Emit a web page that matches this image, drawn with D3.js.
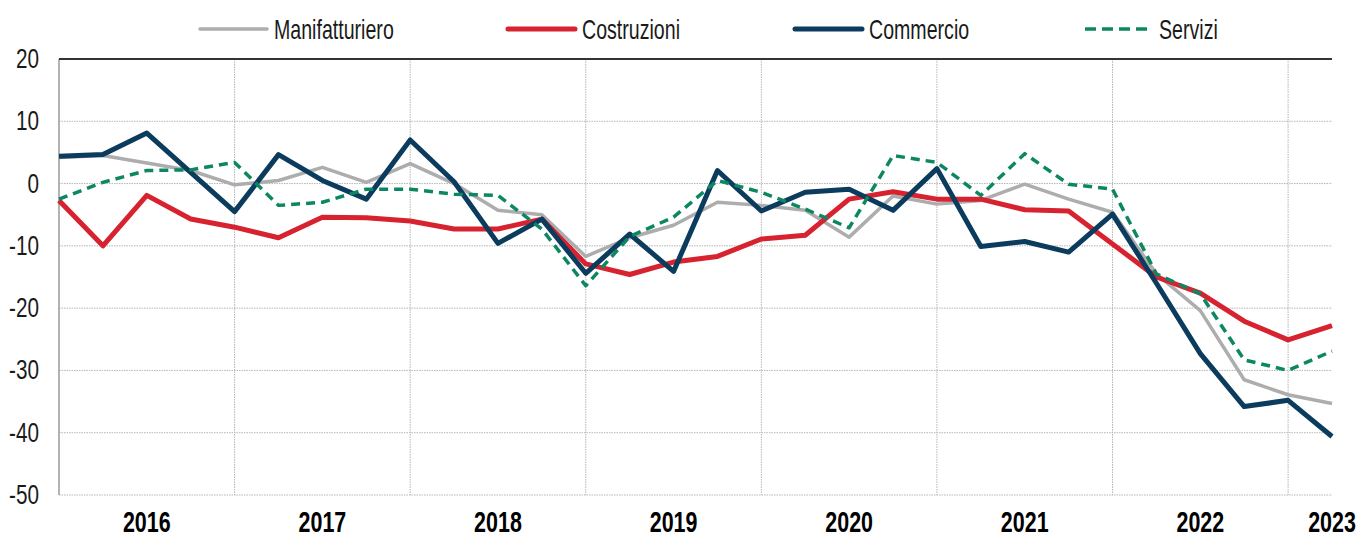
<!DOCTYPE html>
<html>
  <head>
    <meta charset="utf-8" />
    <title>Clima di fiducia per settore</title>
    <script src="https://cdn.jsdelivr.net/npm/d3@7"></script>
    <style>
      body { margin: 0; background: #fff; }
      text { font-family: "Liberation Sans Narrow", "Arial Narrow", "Liberation Sans", sans-serif; fill: #1a1a1a; }
    </style>
  </head>
  <body>
    <svg id="chart"></svg>
    <script>
      // quarterly series, 2016 Q1 - 2023 Q2
      const years = ["2016", "2017", "2018", "2019", "2020", "2021", "2022", "2023"]
      const quartersPerYear = [4, 4, 4, 4, 4, 4, 4, 2]
      const yTicks = [20, 10, 0, -10, -20, -30, -40, -50]

      const manifatturiero = [4.2, 4.5, 3.3, 2.1, -0.2, 0.5, 2.6, 0.2, 3.2, 0.0, -4.3, -5.0, -11.7, -8.7, -6.7, -3.0,
        -3.5, -4.3, -8.6, -2.0, -3.3, -2.7, -0.1, -2.5, -4.6, -14.5, -20.4, -31.5, -33.9, -35.3]
      const costruzioni = [-2.7, -10.0, -1.9, -5.7, -7.0, -8.7, -5.4, -5.5, -6.0, -7.3, -7.3, -5.7, -12.9, -14.6, -12.6, -11.7,
        -8.9, -8.3, -2.5, -1.3, -2.5, -2.5, -4.2, -4.4, -9.7, -15.0, -17.6, -22.1, -25.1, -22.8]
      const commercio = [4.4, 4.65, 8.1, 1.8, -4.5, 4.65, 0.5, -2.5, 7.0, 0.3, -9.6, -5.7, -14.4, -8.1, -14.1, 2.1,
        -4.4, -1.4, -0.9, -4.3, 2.4, -10.1, -9.3, -11.0, -4.9, -16.0, -27.3, -35.8, -34.8, -40.6]
      const servizi = [-2.5, 0.2, 2.1, 2.2, 3.4, -3.5, -3.0, -0.9, -0.9, -1.7, -1.9, -7.3, -16.4, -8.5, -5.4, 0.5,
        -1.4, -4.1, -7.1, 4.5, 3.4, -1.9, 4.8, -0.1, -0.9, -14.5, -17.7, -28.3, -30.0, -26.9]

      const seriesNames = ["Manifatturiero", "Costruzioni", "Commercio", "Servizi"]
      const seriesValues = [manifatturiero, costruzioni, commercio, servizi]

      const width = 1359
      const height = 538
      const margin = {top: 59, right: 27, bottom: 43, left: 59}

      const styles = {
        Manifatturiero: {color: "#adadad", width: 3.5, dash: null},
        Costruzioni: {color: "#d7222f", width: 5, dash: null},
        Commercio: {color: "#0b3b5d", width: 5, dash: null},
        Servizi: {color: "#0d8762", width: 3.5, dash: "9,6"},
      }
      const legendX = [200, 508, 795, 1085]

      const nPoints = manifatturiero.length

      const x = d3.scaleLinear()
        .domain([0, nPoints - 1])
        .range([margin.left, width - margin.right])

      const y = d3.scaleLinear()
        .domain([-50, 20])
        .range([height - margin.bottom, margin.top])

      const svg = d3.select("#chart")
        .attr("width", width)
        .attr("height", height)

      // horizontal grid
      svg.append("g")
        .selectAll("line")
        .data(yTicks.filter(d => d !== 20))
        .join("line")
          .attr("x1", margin.left)
          .attr("x2", width - margin.right)
          .attr("y1", d => y(d))
          .attr("y2", d => y(d))
          .attr("stroke", "#b5b5b5")
          .attr("stroke-width", 1)
          .attr("stroke-dasharray", "1.5,1")

      // year boundaries
      let starts = []
      let acc = 0
      quartersPerYear.forEach(q => { starts.push(acc); acc += q })

      svg.append("g")
        .selectAll("line")
        .data(starts.slice(1))
        .join("line")
          .attr("x1", d => x(d))
          .attr("x2", d => x(d))
          .attr("y1", y(20))
          .attr("y2", y(-50))
          .attr("stroke", "#b5b5b5")
          .attr("stroke-width", 1)
          .attr("stroke-dasharray", "1.5,1")

      // left axis + top border
      svg.append("line")
        .attr("x1", margin.left).attr("x2", margin.left)
        .attr("y1", y(20)).attr("y2", y(-50))
        .attr("stroke", "#9a9a9a").attr("stroke-width", 1.5)
      svg.append("line")
        .attr("x1", margin.left).attr("x2", width - margin.right)
        .attr("y1", y(20)).attr("y2", y(20))
        .attr("stroke", "#333").attr("stroke-width", 2)

      // y labels
      svg.append("g")
        .selectAll("text")
        .data(yTicks)
        .join("text")
          .attr("transform", d => `translate(39, ${y(d) + 9}) scale(0.74, 1)`)
          .attr("text-anchor", "end")
          .style("font-size", "28px")
          .text(d => d)

      // year labels
      svg.append("g")
        .selectAll("text")
        .data(years)
        .join("text")
          .attr("transform", (d, i) => `translate(${x(starts[i] + quartersPerYear[i] / 2)}, 532) scale(0.74, 1)`)
          .attr("text-anchor", "middle")
          .style("font-size", "29px")
          .style("font-weight", "bold")
          .style("fill", "#000")
          .text(d => d)

      // lines
      const line = d3.line()
        .x((d, i) => x(i))
        .y(d => y(d))

      svg.append("g")
        .selectAll("path")
        .data(seriesNames)
        .join("path")
          .attr("d", (d, i) => line(seriesValues[i]))
          .attr("fill", "none")
          .attr("stroke", d => styles[d].color)
          .attr("stroke-width", d => styles[d].width)
          .attr("stroke-dasharray", d => styles[d].dash)
          .attr("stroke-linejoin", "round")

      // legend
      const legend = svg.append("g")
        .selectAll("g")
        .data(seriesNames)
        .join("g")
          .attr("transform", (d, i) => `translate(${legendX[i]}, 29)`)

      legend.append("line")
        .attr("x1", 0).attr("x2", 67)
        .attr("stroke", d => styles[d].color)
        .attr("stroke-width", d => styles[d].width)
        .attr("stroke-dasharray", d => styles[d].dash ? "11,6" : null)
        .attr("stroke-linecap", d => styles[d].dash ? "butt" : "round")

      legend.append("text")
        .attr("transform", `translate(74, 10) scale(0.70, 1)`)
        .style("font-size", "28px")
        .text(d => d)
    </script>
  </body>
</html>
